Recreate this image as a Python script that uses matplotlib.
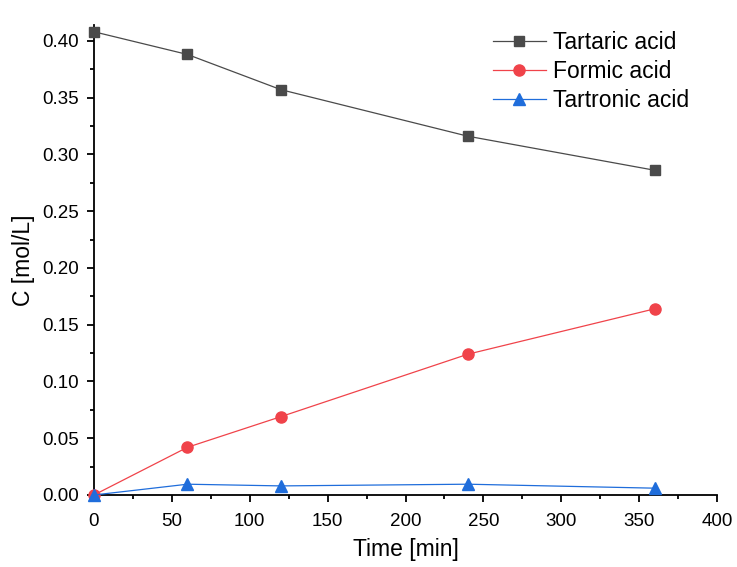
import matplotlib
matplotlib.use('Agg')
import matplotlib.pyplot as plt
from matplotlib.ticker import MultipleLocator

plt.rcParams['font.family'] = ['Liberation Sans', 'DejaVu Sans']

time_min = [0, 60, 120, 240, 360]
tartaric = [0.408, 0.388, 0.357, 0.316, 0.286]
formic = [0.0, 0.042, 0.069, 0.124, 0.164]
tartronic = [0.0, 0.0095, 0.008, 0.0095, 0.006]

fig = plt.figure(figsize=(7.37, 5.67), dpi=100)
ax = fig.add_axes([0.1275, 0.127, 0.8455, 0.829])

ax.plot(time_min, tartaric, '-s', color='#4a4a4a', lw=0.9, ms=7, label='Tartaric acid', clip_on=False, zorder=3)
ax.plot(time_min, formic, '-o', color='#f0434a', lw=0.9, ms=8, label='Formic acid', clip_on=False, zorder=3)
ax.plot(time_min, tartronic, '-^', color='#1f6ddb', lw=0.9, ms=8.5, label='Tartronic acid', clip_on=False, zorder=4)

ax.set_xlim(0, 400)
ax.set_ylim(0, 0.414)
ax.xaxis.set_major_locator(MultipleLocator(50))
ax.xaxis.set_minor_locator(MultipleLocator(25))
ax.yaxis.set_major_locator(MultipleLocator(0.05))
ax.yaxis.set_minor_locator(MultipleLocator(0.025))
ax.yaxis.set_major_formatter(plt.FormatStrFormatter('%.2f'))

ax.spines['top'].set_visible(False)
ax.spines['right'].set_visible(False)
for s in ('left', 'bottom'):
    ax.spines[s].set_linewidth(1.3)
ax.tick_params(which='major', direction='out', length=5, width=1.3, labelsize=13.5)
ax.tick_params(which='minor', direction='out', length=3, width=1.3)
ax.tick_params(axis='x', which='major', pad=8)
ax.tick_params(axis='y', which='major', pad=6)

ax.set_xlabel('Time [min]', fontsize=16.5, labelpad=6)
ax.set_ylabel('C [mol/L]', fontsize=16.5, labelpad=5)

ax.legend(loc='upper left', frameon=False, fontsize=16.5, handlelength=2.3,
          handletextpad=0.3, labelspacing=0.26, borderpad=0, borderaxespad=0,
          bbox_to_anchor=(493 / 737, 1 - 31 / 567), bbox_transform=fig.transFigure)

plt.savefig('out.png', dpi=100)
